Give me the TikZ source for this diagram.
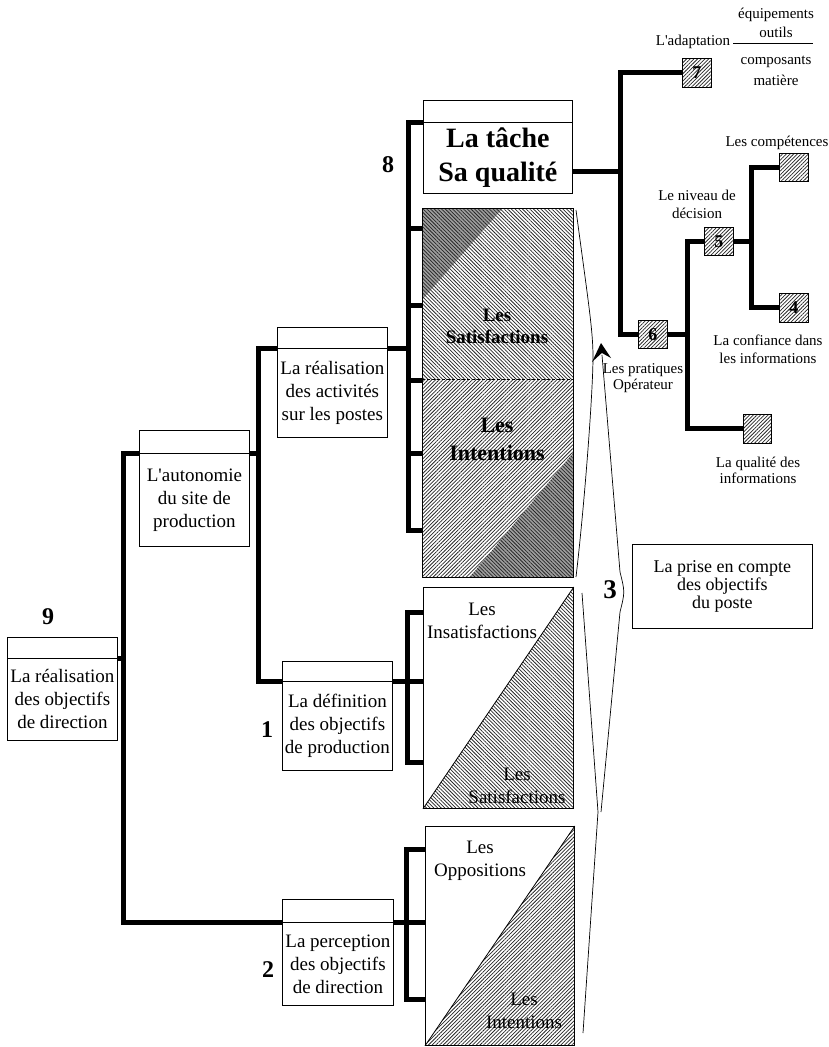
\documentclass[tikz,border=0pt]{standalone}
\usepackage{fontspec}
\setmainfont{Liberation Serif}
\usetikzlibrary{patterns.meta,arrows.meta,calc}
\newcommand\fsBox{\fontsize{19}{23}\selectfont}
\newcommand\fsSmall{\fontsize{15}{18}\selectfont}
\newcommand\fsNum{\fontsize{24}{26}\selectfont\bfseries}
\newcommand\fsTache{\fontsize{28}{34}\selectfont\bfseries}
\newcommand\fsSq{\fontsize{18}{18}\selectfont\bfseries}
\newcommand\apos{\textquotesingle}
\begin{document}
\begin{tikzpicture}[x=1pt,y=-1pt,
  box/.style={draw, line width=0.8pt, inner sep=0pt, align=center, anchor=north west},
  conn/.style={line width=5pt},
  thinline/.style={line width=0.7pt},
  hatchA/.style={pattern={Lines[angle=45,distance=2.6pt,line width=0.75pt]}, pattern color=black!85},
  hatchB/.style={pattern={Lines[angle=-45,distance=2.6pt,line width=0.75pt]}, pattern color=black!85},
  darkfill/.style={fill=black!38},
  sq/.style={draw, line width=0.8pt, inner sep=0pt, anchor=north west, minimum width=29pt, minimum height=28pt, font=\fsSq},
  lbl/.style={align=center, inner sep=0pt, font=\fsSmall},
  num/.style={inner sep=0pt, font=\fsNum}]
\useasboundingbox (0,0) rectangle (829,1047);

% ---------- junction coordinates
\coordinate (v1) at (123,0);
\coordinate (v2) at (258,0);
\coordinate (v3) at (408,0);
\coordinate (v4) at (620,0);
\coordinate (v5) at (687,0);
\coordinate (v6) at (751,0);
\coordinate (v7) at (407,0);
\coordinate (v8) at (406,0);

% ---------- left boxes
\node[box, minimum width=110pt, minimum height=21pt] (h9) at (7,637) {};
\node[box, minimum width=110pt, minimum height=82pt, font=\fsBox] (b9) at (7,658) {La réalisation\\des objectifs\\de direction};
\node[num] (n9) at (48,617) {9};

\node[box, minimum width=110pt, minimum height=23pt] (haut) at (139,430) {};
\node[box, minimum width=110pt, minimum height=93pt, font=\fsBox] (aut) at (139,453) {L\apos autonomie\\du site de\\production};

\node[box, minimum width=110pt, minimum height=21pt] (hact) at (277,327) {};
\node[box, minimum width=110pt, minimum height=89pt, font=\fsBox] (act) at (277,348) {La réalisation\\des activités\\sur les postes};

\node[box, minimum width=110pt, minimum height=20pt] (hdef) at (282,661) {};
\node[box, minimum width=110pt, minimum height=89pt, font=\fsBox] (def) at (282,681) {La définition\\des objectifs\\de production};
\node[num] (n1) at (267,730) {1};

\node[box, minimum width=111pt, minimum height=23pt] (hper) at (282,899) {};
\node[box, minimum width=111pt, minimum height=83pt, font=\fsBox] (per) at (282,922) {La perception\\des objectifs\\de direction};
\node[num] (n2) at (268,970) {2};

% ---------- tache box
\node[box, minimum width=149pt, minimum height=22pt] (htache) at (423,100) {};
\node[box, minimum width=149pt, minimum height=71pt, font=\fsTache] (tache) at (423,122) {La tâche\\Sa qualité};
\node[num] (n8) at (388,165) {8};

% ---------- big hatched rectangle
\node[box, minimum width=151pt, minimum height=369pt] (big) at (422,208) {};
\fill[hatchB] (422,208) rectangle (573,379);
\fill[hatchA] (422,379) rectangle (573,577);
\fill[darkfill] (422,208) -- (503,208) -- (422,300) -- cycle;
\fill[hatchB] (422,208) -- (503,208) -- (422,300) -- cycle;
\fill[darkfill] (573,453) -- (573,577) -- (470,577) -- cycle;
\fill[hatchB] (573,453) -- (573,577) -- (470,577) -- cycle;
\draw[line width=0.8pt] (big.north west) rectangle (big.south east);
\draw[line width=0.8pt, densely dashed] (422,379) -- (573,379);
\node[align=center, inner sep=0pt, font=\fontsize{19}{22}\selectfont\bfseries] (sat) at (497,326) {Les\\Satisfactions};
\node[align=center, inner sep=0pt, font=\fontsize{22}{28}\selectfont\bfseries] (int) at (497,439) {Les\\Intentions};

% ---------- triangle boxes
\node[box, minimum width=150pt, minimum height=221pt] (tri1) at (423,587) {};
\fill[hatchB] (tri1.north east) -- (tri1.south east) -- (tri1.south west) -- cycle;
\draw[line width=0.8pt] (tri1.north east) -- (tri1.south west);
\draw[line width=0.8pt] (tri1.north west) rectangle (tri1.south east);
\node[lbl, font=\fsBox] (ins) at (482,621) {Les\\Insatisfactions};
\node[lbl, font=\fsBox] (sat2) at (517,786) {Les\\Satisfactions};

\node[box, minimum width=149pt, minimum height=219pt] (tri2) at (425,826) {};
\fill[hatchA] (tri2.north east) -- (tri2.south east) -- (tri2.south west) -- cycle;
\draw[line width=0.8pt] (tri2.north east) -- (tri2.south west);
\draw[line width=0.8pt] (tri2.north west) rectangle (tri2.south east);
\node[lbl, font=\fsBox] (opp) at (480,861) {Les\\Oppositions};
\node[lbl, font=\fsBox] (int2) at (524,1011) {Les\\Intentions};

% ---------- box 3
\node[box, minimum width=180pt, minimum height=84pt, font=\fontsize{18}{18}\selectfont] (b3) at (632,544) {La prise en compte\\des objectifs\\du poste};
\node[num, font=\fontsize{27}{28}\selectfont\bfseries] (n3) at (610,590) {3};

% ---------- right side small boxes
\node[sq, minimum height=29pt, hatchA] (s7) at (682,58) {7};
\node[sq, hatchA] (s6) at (638,320) {6};
\node[sq, hatchA] (s5) at (704,227) {5};
\node[sq, hatchA] (sc) at (779,153) {};
\node[sq, minimum height=29pt, hatchA] (s4) at (779,293) {4};
\node[sq, minimum width=28pt, minimum height=29pt, hatchA] (sq) at (743,414) {};

% ---------- right side labels
\node[lbl] (adapt) at (693,42) {L\apos adaptation};
\node[lbl] (equip) at (776,15) {équipements};
\node[lbl] (outils) at (776,32) {outils};
\draw[thinline] (733,43) -- (813,43);
\node[lbl] (compo) at (776,62) {composants};
\node[lbl] (mat) at (776,80) {matière};
\node[lbl] (lcomp) at (777,143) {Les compétences};
\node[lbl] (lniv) at (697,204) {Le niveau de\\décision};
\node[lbl] (lconf) at (768,349) {La confiance dans\\les informations};
\node[lbl, font=\fontsize{15}{16}\selectfont] (lprat) at (643,378) {Les pratiques\\Opérateur};
\node[lbl, font=\fontsize{15}{16}\selectfont] (lqual) at (758,470) {La qualité des\\informations};

% ---------- thick connectors, left tree
\draw[conn] (b9.north east) -- (b9.north east -| v1);
\draw[conn] (aut.north west) -| (v1 |- per.north west) -- (per.north west);
\draw[conn] (aut.north east) -- (aut.north east -| v2);
\draw[conn] (act.north west) -| (v2 |- def.north west) -- (def.north west);
\draw[conn] (act.north east) -- (act.north east -| v3);
\draw[conn] (tache.north west) -| (v3 |- 0,530) -- (big.west |- 0,530);
\foreach \yy in {228,305,380,453}
  \draw[conn] (v3 |- 0,\yy) -- (big.west |- 0,\yy);

\draw[conn] (def.north east) -- (tri1.west |- def.north east);
\draw[conn] (tri1.west |- 0,612) -| (v7 |- 0,762) -- (tri1.west |- 0,762);

\draw[conn] (per.north east) -- (tri2.west |- per.north east);
\draw[conn] (tri2.west |- 0,849) -| (v8 |- 0,999) -- (tri2.west |- 0,999);

% ---------- thick connectors, right tree
\coordinate (tq) at ([yshift=-14pt]tache.east);
\draw[conn] (tq) -- (tq -| v4);
\draw[conn] (s7.west) -| (v4 |- s6.west) -- (s6.west);
\draw[conn] (s6.east) -- (s6.east -| v5);
\draw[conn] (s5.west) -| (v5 |- sq.west) -- (sq.west);
\draw[conn] (s5.east) -- (s5.east -| v6);
\draw[conn] (sc.west) -| (v6 |- s4.west) -- (s4.west);

% ---------- thin brackets and arrow
\coordinate (tip) at (601,343);
\coordinate (apex) at (601,812);
\draw[thinline] (576,210) .. controls (588,300) and (593,330) .. (593,357) .. controls (593,390) and (585,500) .. (576,577);
\draw[thinline] (582,593) -- (598,812) -- (583,1033);
\draw[thinline] (apex) -- (620,612) .. controls (625,592) .. (620,572) -- ($(tip)!12pt!(620,572)$);
\fill (tip) -- (592,362) -- ($(tip)!10pt!(620,572)$) -- (611,358) -- cycle;
\end{tikzpicture}
\end{document}
